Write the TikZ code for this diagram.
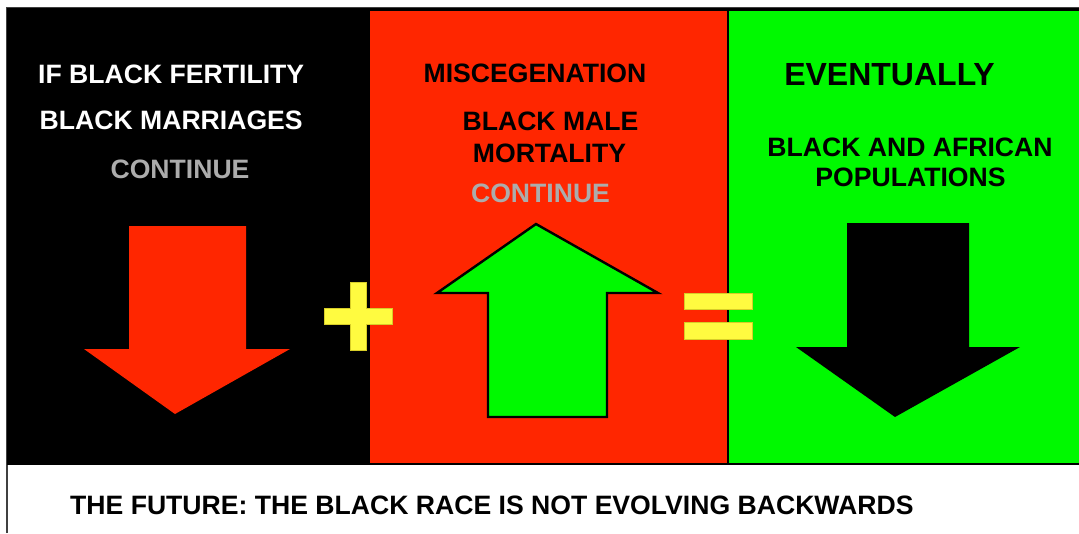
\documentclass[tikz,border=0pt]{standalone}
\usepackage{fontspec}
\setmainfont{Liberation Sans}
\usetikzlibrary{positioning}

\definecolor{panelred}{RGB}{255,38,0}
\definecolor{panelgreen}{RGB}{0,249,0}
\definecolor{signyellow}{RGB}{255,251,64}
\definecolor{signedge}{RGB}{215,205,40}
\definecolor{greytext}{RGB}{172,172,172}

\tikzset{
  lbl/.style={font=\bfseries\fontsize{26.6}{30}\selectfont, inner sep=0pt},
  biglbl/.style={font=\bfseries\fontsize{32}{36}\selectfont, inner sep=0pt},
  sign/.style={fill=signyellow, draw=signedge, line width=0.6pt}
}

\begin{document}
\begin{tikzpicture}[x=1pt, y=-1pt]
\useasboundingbox[fill=white] (0,0) rectangle (1079,533);
% frame
\draw[line width=1.6pt, black!75] (7,533) -- (7,8) -- (1079,8);
% black panel
\begin{scope}
\fill[black] (7,8) rectangle (369,465);
\fill[panelred] (129,226) -- (246,226) -- (246,349) -- (290,349) -- (175,414)
  -- (84,349) -- (129,349) -- cycle;
\node[lbl, white, anchor=west] (fertility) at (38,74) {IF BLACK FERTILITY};
\node[lbl, white, anchor=west] (marriages) at (39.5,120.5) {BLACK MARRIAGES};
\node[lbl, greytext] (continueA) at (180,169) {CONTINUE};
\end{scope}
% red panel
\begin{scope}
\draw[line width=2.4pt, fill=panelred] (369,9.5) rectangle (728,464);
\draw[line width=2.4pt, fill=panelgreen] (536,224) -- (658,293) -- (607,293) -- (607,417)
  -- (488,417) -- (488,293) -- (437,293) -- cycle;
\node[lbl] (misc) at (535,73.5) {MISCEGENATION};
\node[lbl] (male) at (550.5,121) {BLACK MALE};
\node[lbl] (mortality) at (549.5,153.5) {MORTALITY};
\node[lbl, greytext] (continueB) at (540.5,193.5) {CONTINUE};
\end{scope}
% green panel
\begin{scope}
\draw[line width=2.4pt, fill=panelgreen] (728,9.5) rectangle (1082,464);
\fill[black] (847,223) -- (969,223) -- (969,347) -- (1020,347) -- (895,417)
  -- (796,347) -- (847,347) -- cycle;
\node[biglbl] (eventually) at (889.5,75) {EVENTUALLY};
\node[lbl] (african) at (910,147) {BLACK AND AFRICAN};
\node[lbl] (populations) at (910.5,177.5) {POPULATIONS};
\end{scope}
% plus and equals
\draw[sign] (350,282) -- (366,282) -- (366,308) -- (392,308) -- (392,324) -- (366,324)
  -- (366,350) -- (350,350) -- (350,324) -- (324,324) -- (324,308) -- (350,308) -- cycle;
\draw[sign] (684,293) rectangle (752,309);
\draw[sign] (684,322) rectangle (752,339);
% caption
\node[lbl, anchor=west] (future) at (70,505) {THE FUTURE: THE BLACK RACE IS NOT EVOLVING BACKWARDS};
\end{tikzpicture}
\end{document}
